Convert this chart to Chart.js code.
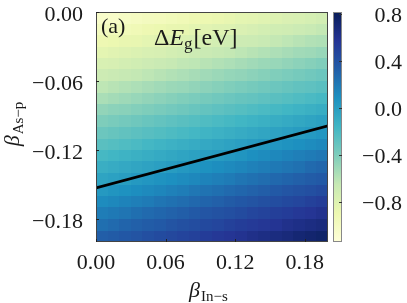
<!DOCTYPE html>
<html>
<head>
<meta charset="utf-8">
<title>Band gap change map</title>
<script src="https://cdn.jsdelivr.net/npm/chart.js@4.4.0/dist/chart.umd.min.js"></script>
<style>
  html, body { margin: 0; padding: 0; background: #fff; }
  #wrap { width: 407px; height: 303px; }
</style>
</head>
<body>
<div id="wrap"><canvas id="gapChart" width="407" height="303"></canvas></div>
<script>
// centres of the map cells (beta In-s along x, beta As-p along y, top row first)
const betaInS = [0.005, 0.015, 0.025, 0.035, 0.045, 0.055, 0.065, 0.075, 0.085, 0.095,
                 0.105, 0.115, 0.125, 0.135, 0.145, 0.155, 0.165, 0.175, 0.185, 0.195];
const betaAsP = [-0.005, -0.015, -0.025, -0.035, -0.045, -0.055, -0.065, -0.075, -0.085, -0.095,
                 -0.105, -0.115, -0.125, -0.135, -0.145, -0.155, -0.165, -0.175, -0.185, -0.195];

// Delta E_g in eV, one row per betaAsP value
const deltaEg = [
  [-1.05, -1.04, -1.02, -1.00, -0.98, -0.97, -0.95, -0.93, -0.91, -0.90, -0.88, -0.86, -0.84, -0.83, -0.81, -0.79, -0.77, -0.76, -0.74, -0.72],
  [-0.98, -0.96, -0.95, -0.93, -0.91, -0.89, -0.87, -0.86, -0.84, -0.82, -0.80, -0.79, -0.77, -0.75, -0.73, -0.71, -0.70, -0.68, -0.66, -0.64],
  [-0.91, -0.89, -0.87, -0.86, -0.84, -0.82, -0.80, -0.78, -0.77, -0.75, -0.73, -0.71, -0.69, -0.68, -0.66, -0.64, -0.62, -0.60, -0.58, -0.57],
  [-0.84, -0.82, -0.80, -0.78, -0.76, -0.75, -0.73, -0.71, -0.69, -0.67, -0.65, -0.64, -0.62, -0.60, -0.58, -0.56, -0.54, -0.52, -0.51, -0.49],
  [-0.76, -0.75, -0.73, -0.71, -0.69, -0.67, -0.65, -0.63, -0.62, -0.60, -0.58, -0.56, -0.54, -0.52, -0.50, -0.49, -0.47, -0.45, -0.43, -0.41],
  [-0.69, -0.67, -0.65, -0.64, -0.62, -0.60, -0.58, -0.56, -0.54, -0.52, -0.50, -0.48, -0.47, -0.45, -0.43, -0.41, -0.39, -0.37, -0.35, -0.33],
  [-0.62, -0.60, -0.58, -0.56, -0.54, -0.52, -0.50, -0.49, -0.47, -0.45, -0.43, -0.41, -0.39, -0.37, -0.35, -0.33, -0.31, -0.29, -0.28, -0.26],
  [-0.55, -0.53, -0.51, -0.49, -0.47, -0.45, -0.43, -0.41, -0.39, -0.37, -0.35, -0.33, -0.31, -0.30, -0.28, -0.26, -0.24, -0.22, -0.20, -0.18],
  [-0.47, -0.45, -0.44, -0.42, -0.40, -0.38, -0.36, -0.34, -0.32, -0.30, -0.28, -0.26, -0.24, -0.22, -0.20, -0.18, -0.16, -0.14, -0.12, -0.10],
  [-0.40, -0.38, -0.36, -0.34, -0.32, -0.30, -0.28, -0.26, -0.24, -0.22, -0.20, -0.18, -0.16, -0.14, -0.12, -0.10, -0.08, -0.06, -0.04, -0.02],
  [-0.33, -0.31, -0.29, -0.27, -0.25, -0.23, -0.21, -0.19, -0.17, -0.15, -0.13, -0.11, -0.09, -0.07, -0.05, -0.03, -0.01, 0.01, 0.03, 0.05],
  [-0.26, -0.24, -0.22, -0.20, -0.17, -0.15, -0.13, -0.11, -0.09, -0.07, -0.05, -0.03, -0.01, 0.01, 0.03, 0.05, 0.07, 0.09, 0.11, 0.13],
  [-0.18, -0.16, -0.14, -0.12, -0.10, -0.08, -0.06, -0.04, -0.02, 0.00, 0.02, 0.04, 0.06, 0.09, 0.11, 0.13, 0.15, 0.17, 0.19, 0.21],
  [-0.11, -0.09, -0.07, -0.05, -0.03, -0.01, 0.01, 0.04, 0.06, 0.08, 0.10, 0.12, 0.14, 0.16, 0.18, 0.20, 0.22, 0.24, 0.27, 0.29],
  [-0.04, -0.02, 0.00, 0.03, 0.05, 0.07, 0.09, 0.11, 0.13, 0.15, 0.17, 0.19, 0.22, 0.24, 0.26, 0.28, 0.30, 0.32, 0.34, 0.36],
  [0.03, 0.06, 0.08, 0.10, 0.12, 0.14, 0.16, 0.18, 0.21, 0.23, 0.25, 0.27, 0.29, 0.31, 0.33, 0.36, 0.38, 0.40, 0.42, 0.44],
  [0.11, 0.13, 0.15, 0.17, 0.19, 0.22, 0.24, 0.26, 0.28, 0.30, 0.32, 0.35, 0.37, 0.39, 0.41, 0.43, 0.45, 0.47, 0.50, 0.52],
  [0.18, 0.20, 0.22, 0.25, 0.27, 0.29, 0.31, 0.33, 0.36, 0.38, 0.40, 0.42, 0.44, 0.47, 0.49, 0.51, 0.53, 0.55, 0.57, 0.60],
  [0.25, 0.27, 0.30, 0.32, 0.34, 0.36, 0.39, 0.41, 0.43, 0.45, 0.47, 0.50, 0.52, 0.54, 0.56, 0.58, 0.61, 0.63, 0.65, 0.67],
  [0.33, 0.35, 0.37, 0.39, 0.42, 0.44, 0.46, 0.48, 0.50, 0.53, 0.55, 0.57, 0.59, 0.62, 0.64, 0.66, 0.68, 0.71, 0.73, 0.75]
];

// Delta E_g = 0 contour
const zeroLineX = [0.0, 0.2];
const zeroLineY = [-0.153, -0.099];

const xTicks = [0, 0.06, 0.12, 0.18];
const yTicks = [0, -0.06, -0.12, -0.18];
const cbTicks = [0.8, 0.4, 0.0, -0.4, -0.8];
const cbMin = -1.14;
const cbMax = 0.82;

// matplotlib YlGnBu
const ylgnbu = ['#ffffd9', '#edf8b1', '#c7e9b4', '#7fcdbb', '#41b6c4', '#1d91c0', '#225ea8', '#253494', '#081d58'];
const serif = "'Liberation Serif', 'DejaVu Serif', serif";
const ink = '#1a1a1a';

function hexToRgb(h) {
  return [parseInt(h.slice(1, 3), 16), parseInt(h.slice(3, 5), 16), parseInt(h.slice(5, 7), 16)];
}

function colorFor(v) {
  let t = (v - cbMin) / (cbMax - cbMin);
  t = Math.min(1, Math.max(0, t));
  const pos = t * (ylgnbu.length - 1);
  const i = Math.min(Math.floor(pos), ylgnbu.length - 2);
  const f = pos - i;
  const a = hexToRgb(ylgnbu[i]);
  const b = hexToRgb(ylgnbu[i + 1]);
  const c = a.map((k, n) => Math.round(k + (b[n] - k) * f));
  return `rgb(${c[0]},${c[1]},${c[2]})`;
}

function fmt(v, digits) {
  const s = Math.abs(v).toFixed(digits);
  return (v < -1e-9 ? '\u2212' : '') + s;
}

// beta with a roman subscript
function drawSubLabel(ctx, main, sub, x, y, size) {
  ctx.font = `italic ${size}px ${serif}`;
  const w1 = ctx.measureText(main).width;
  ctx.fillText(main, x, y);
  ctx.font = `${Math.round(size * 0.7)}px ${serif}`;
  ctx.fillText(sub, x + w1 + 1, y + 4);
}

function subLabelWidth(ctx, main, sub, size) {
  ctx.font = `italic ${size}px ${serif}`;
  const w1 = ctx.measureText(main).width;
  ctx.font = `${Math.round(size * 0.7)}px ${serif}`;
  return w1 + 1 + ctx.measureText(sub).width;
}

// keep the chart area where the reference has it
function noEdgePadding(s) {
  s.paddingTop = 0;
  s.paddingBottom = 0;
  s.paddingLeft = 0;
  s.paddingRight = 0;
}

const heatmapPlugin = {
  id: 'heatmap',
  beforeDatasetsDraw(chart) {
    const { ctx, chartArea, scales: { x, y } } = chart;
    const hx = (betaInS[1] - betaInS[0]) / 2;
    const hy = Math.abs(betaAsP[1] - betaAsP[0]) / 2;
    ctx.save();
    ctx.beginPath();
    ctx.rect(chartArea.left, chartArea.top, chartArea.width, chartArea.height);
    ctx.clip();
    betaAsP.forEach((by, j) => {
      betaInS.forEach((bx, i) => {
        const x0 = Math.round(x.getPixelForValue(bx - hx));
        const x1 = Math.round(x.getPixelForValue(bx + hx));
        const y0 = Math.round(y.getPixelForValue(by + hy));
        const y1 = Math.round(y.getPixelForValue(by - hy));
        ctx.fillStyle = colorFor(deltaEg[j][i]);
        ctx.fillRect(x0, y0, x1 - x0, y1 - y0);
      });
    });
    ctx.restore();
  },
  afterDatasetsDraw(chart) {
    const { ctx, chartArea, scales: { x, y, cb } } = chart;
    ctx.save();

    // frame
    ctx.strokeStyle = '#444';
    ctx.lineWidth = 1;
    ctx.strokeRect(chartArea.left + 0.5, chartArea.top + 0.5, chartArea.width - 1, chartArea.height - 1);

    // inward tick marks
    ctx.strokeStyle = '#222';
    ctx.beginPath();
    xTicks.forEach(v => {
      const px = Math.round(x.getPixelForValue(v)) + 0.5;
      ctx.moveTo(px, chartArea.bottom);
      ctx.lineTo(px, chartArea.bottom - 3);
    });
    yTicks.forEach(v => {
      const py = Math.round(y.getPixelForValue(v)) + 0.5;
      ctx.moveTo(chartArea.left, py);
      ctx.lineTo(chartArea.left + 3, py);
    });
    ctx.stroke();

    // colour bar
    const barX = chartArea.right + 5;
    const barW = 9;
    const gTop = cb.getPixelForValue(cbMax);
    const gBot = cb.getPixelForValue(cbMin);
    const grad = ctx.createLinearGradient(0, gBot, 0, gTop);
    ylgnbu.forEach((c, i) => grad.addColorStop(i / (ylgnbu.length - 1), c));
    ctx.fillStyle = grad;
    ctx.fillRect(barX, gTop, barW, gBot - gTop);
    ctx.strokeStyle = '#888';
    ctx.strokeRect(barX + 0.5, gTop + 0.5, barW - 1, gBot - gTop - 1);
    ctx.strokeStyle = '#333';
    ctx.beginPath();
    cbTicks.forEach(v => {
      const py = Math.round(cb.getPixelForValue(v)) + 0.5;
      ctx.moveTo(barX + barW - 3, py);
      ctx.lineTo(barX + barW, py);
    });
    ctx.stroke();

    // panel texts
    ctx.fillStyle = ink;
    ctx.textBaseline = 'alphabetic';
    ctx.textAlign = 'left';
    ctx.font = `22px ${serif}`;
    ctx.fillText('(a)', chartArea.left + 5, chartArea.top + 21);

    let tx = chartArea.left + 58;
    const ty = chartArea.top + 33;
    ctx.font = `24px ${serif}`;
    ctx.fillText('\u0394', tx, ty);
    tx += ctx.measureText('\u0394').width;
    ctx.font = `italic 24px ${serif}`;
    ctx.fillText('E', tx, ty);
    tx += ctx.measureText('E').width;
    ctx.font = `17px ${serif}`;
    ctx.fillText('g', tx, ty + 4);
    tx += ctx.measureText('g').width + 1;
    ctx.font = `24px ${serif}`;
    ctx.fillText('[eV]', tx, ty);

    // axis titles
    const size = 22;
    drawSubLabel(ctx, '\u03b2', 'In\u2212s', 189, 297, size);

    const wy = subLabelWidth(ctx, '\u03b2', 'As\u2212p', size);
    ctx.translate(19, 124 + wy / 2);
    ctx.rotate(-Math.PI / 2);
    drawSubLabel(ctx, '\u03b2', 'As\u2212p', 0, 0, size);

    ctx.restore();
  }
};

const tickFont = { family: serif, size: 22 };

new Chart(document.getElementById('gapChart'), {
  type: 'scatter',
  data: {
    datasets: [{
      data: zeroLineX.map((v, i) => ({ x: v, y: zeroLineY[i] })),
      showLine: true,
      borderColor: '#000',
      borderWidth: 2.8,
      pointRadius: 0,
      yAxisID: 'y'
    }]
  },
  options: {
    responsive: false,
    animation: false,
    layout: { padding: { top: 12, right: 5, left: 0, bottom: 0 } },
    plugins: { legend: { display: false }, tooltip: { enabled: false } },
    scales: {
      x: {
        type: 'linear',
        min: 0,
        max: 0.2,
        grid: { display: false, drawTicks: false },
        border: { display: false },
        ticks: { font: tickFont, color: ink, padding: 8, maxRotation: 0, autoSkip: false, callback: v => fmt(v, 2) },
        afterBuildTicks: s => { s.ticks = xTicks.map(v => ({ value: v })); },
        afterFit: s => { s.height = 61; noEdgePadding(s); }
      },
      y: {
        type: 'linear',
        position: 'left',
        min: -0.2,
        max: 0,
        grid: { display: false, drawTicks: false },
        border: { display: false },
        ticks: { font: tickFont, color: ink, padding: 13, labelOffset: 3, autoSkip: false, callback: v => fmt(v, 2) },
        afterBuildTicks: s => { s.ticks = yTicks.map(v => ({ value: v })); },
        afterFit: s => { s.width = 96; noEdgePadding(s); }
      },
      cb: {
        type: 'linear',
        position: 'right',
        min: cbMin,
        max: cbMax,
        grid: { display: false, drawTicks: false, drawOnChartArea: false },
        border: { display: false },
        ticks: { font: tickFont, color: ink, padding: 0, crossAlign: 'far', labelOffset: 2, autoSkip: false, callback: v => fmt(v, 1) },
        afterBuildTicks: s => { s.ticks = cbTicks.map(v => ({ value: v })); },
        afterFit: s => { s.width = 74; noEdgePadding(s); }
      }
    }
  },
  plugins: [heatmapPlugin]
});
</script>
</body>
</html>
